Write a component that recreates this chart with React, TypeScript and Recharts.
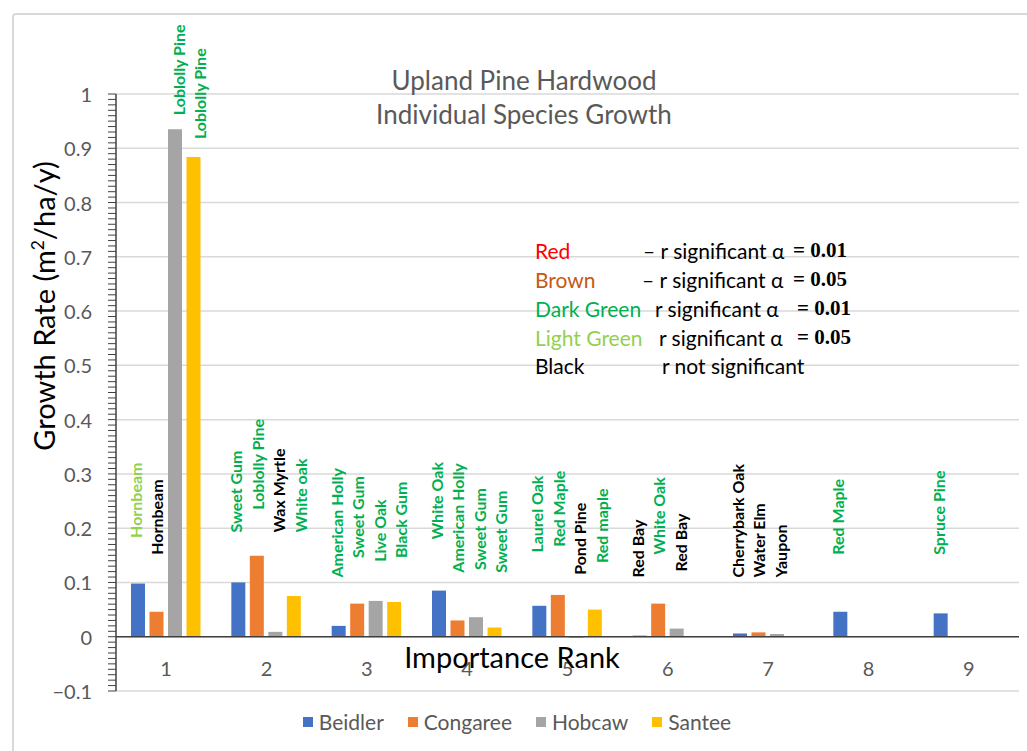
import React from "react";
import {
  ComposedChart,
  Bar,
  XAxis,
  YAxis,
  CartesianGrid,
  ReferenceLine,
  Legend,
  LabelList,
} from "recharts";

// importance rank categories
const ranks = ["1", "2", "3", "4", "5", "6", "7", "8", "9"];

// growth rate per site (m2/ha/y)
const beidler = [0.098, 0.1, 0.02, 0.085, 0.057, 0.002, 0.006, 0.046, 0.043];
const congaree = [0.046, 0.149, 0.061, 0.03, 0.077, 0.061, 0.008, 0, 0];
const hobcaw = [0.935, 0.009, 0.066, 0.036, -0.002, 0.015, 0.005, 0, 0];
const santee = [0.884, 0.075, 0.064, 0.017, 0.05, 0, 0, 0, 0];

// species names above each bar, their significance class and where the text starts (growth-rate units)
const beidlerSpecies = ["Hornbeam", "Sweet Gum", "American Holly", "White Oak", "Laurel Oak", "Red Bay", "Cherrybark Oak", "Red Maple", "Spruce Pine"];
const beidlerSig = ["light", "dark", "dark", "dark", "dark", "ns", "ns", "dark", "dark"];
const beidlerLabelAt = [0.182, 0.192, 0.109, 0.179, 0.155, 0.109, 0.109, 0.151, 0.151];

const congareeSpecies = ["Hornbeam", "Loblolly Pine", "Sweet Gum", "American Holly", "Red Maple", "White Oak", "Water Elm", null, null];
const congareeSig = ["ns", "dark", "dark", "dark", "dark", "dark", "ns", null, null];
const congareeLabelAt = [0.151, 0.234, 0.145, 0.118, 0.166, 0.151, 0.109, null, null];

const hobcawSpecies = ["Loblolly Pine", "Wax Myrtle", "Live Oak", "Sweet Gum", "Pond Pine", "Red Bay", "Yaupon", null, null];
const hobcawSig = ["dark", "ns", "dark", "dark", "ns", "ns", "ns", null, null];
const hobcawLabelAt = [0.961, 0.192, 0.138, 0.123, 0.114, 0.12, 0.109, null, null];

const santeeSpecies = ["Loblolly Pine", "White oak", "Black Gum", "Sweet Gum", "Red maple", null, null, null, null];
const santeeSig = ["dark", "dark", "dark", "dark", "dark", null, null, null, null];
const santeeLabelAt = [0.917, 0.192, 0.145, 0.118, 0.136, null, null, null, null];

// y axis
const majorTicks = [-0.1, 0, 0.1, 0.2, 0.3, 0.4, 0.5, 0.6, 0.7, 0.8, 0.9, 1];
const yTickLabels = ["\u22120.1", "0", "0.1", "0.2", "0.3", "0.4", "0.5", "0.6", "0.7", "0.8", "0.9", "1"];

// significance key
const sigNames = ["Red", "Brown", "Dark Green", "Light Green", "Black"];
const sigTexts = ["\u2013 r significant \u03b1", "\u2013 r significant \u03b1", "r significant \u03b1", "r significant \u03b1", "r not significant"];
const sigAlphas = ["= 0.01", "= 0.05", "= 0.01", "= 0.05", ""];

const sigColor: Record<string, string> = {
  dark: "#00B050",
  light: "#92D050",
  ns: "#000000",
};
const sigNameColors = ["#FF0000", "#C55A11", "#00B050", "#92D050", "#000000"];

const series = [
  { name: "Beidler", color: "#4472C4", values: beidler, species: beidlerSpecies, sig: beidlerSig, labelAt: beidlerLabelAt },
  { name: "Congaree", color: "#ED7D31", values: congaree, species: congareeSpecies, sig: congareeSig, labelAt: congareeLabelAt },
  { name: "Hobcaw", color: "#A5A5A5", values: hobcaw, species: hobcawSpecies, sig: hobcawSig, labelAt: hobcawLabelAt },
  { name: "Santee", color: "#FFC000", values: santee, species: santeeSpecies, sig: santeeSig, labelAt: santeeLabelAt },
];

const data = ranks.map((rank, i) => {
  const row: any = { rank };
  series.forEach((s) => {
    row[s.name] = s.values[i];
    row[`${s.name}LabelAt`] = s.labelAt[i];
    row[`${s.name}Tag`] = s.species[i] ? `${s.species[i]}|${s.sig[i]}` : null;
  });
  return row;
});

// every 0.01 for the minor tick marks
const allTicks = Array.from({ length: 111 }, (_, i) => Math.round((-0.1 + i * 0.01) * 100) / 100);

const FONT = "Lato, 'Open Sans', sans-serif";

const YTick = (props: any) => {
  const { x, y, payload } = props;
  const idx = majorTicks.findIndex((t) => Math.abs(t - payload.value) < 1e-6);
  if (idx < 0) return null;
  return (
    <text x={x} y={y} textAnchor="end" dominantBaseline="central" fill="#595959" fontSize={20} fontFamily={FONT}>
      {yTickLabels[idx]}
    </text>
  );
};

const XTick = (props: any) => {
  const { x, y, payload } = props;
  return (
    <text x={x} y={y - 23} textAnchor="middle" dominantBaseline="central" fill="#595959" fontSize={20} fontFamily={FONT}>
      {payload.value}
    </text>
  );
};

const SpeciesLabel = (props: any) => {
  const { x, y, width, value } = props;
  if (!value) return null;
  const [name, sig] = String(value).split("|");
  const cx = Number(x) + Number(width) / 2 + 2;
  const cy = Number(y);
  return (
    <text
      x={cx}
      y={cy}
      transform={`rotate(-90 ${cx} ${cy})`}
      textAnchor="start"
      dominantBaseline="central"
      fill={sigColor[sig]}
      fontSize={16}
      fontWeight={700}
      fontFamily={FONT}
    >
      {name}
    </text>
  );
};

const SiteLegend = (props: any) => {
  const items = (props.payload || []).filter((p: any) => series.some((s) => s.name === p.value));
  return (
    <div style={{ display: "flex", justifyContent: "center", gap: 24, fontFamily: FONT }}>
      {items.map((entry: any) => (
        <div key={entry.value} style={{ display: "flex", alignItems: "center" }}>
          <span style={{ display: "inline-block", width: 10, height: 10, background: entry.color, marginRight: 6 }} />
          <span style={{ color: "#595959", fontSize: 21 }}>{entry.value}</span>
        </div>
      ))}
    </div>
  );
};

const sigRowTop = [250, 279, 308, 337, 365];
const sigTextLeft = [643, 642, 655, 659, 662];
const sigAlphaLeft = [793, 793, 797, 797, 0];

export default function App() {
  return (
    <div style={{ position: "absolute", left: 0, top: 0, width: 1027, height: 751, background: "#fff", fontFamily: FONT }}>
      <div
        style={{
          position: "absolute",
          left: 12,
          top: 13,
          right: 0,
          bottom: 0,
          borderLeft: "2px solid #d9d9d9",
          borderTop: "2px solid #d9d9d9",
          borderTopLeftRadius: 4,
        }}
      />
      <ComposedChart
        width={1027}
        height={751}
        data={data}
        barGap={4.5}
        margin={{ top: 94, right: 8, bottom: 30, left: 36 }}
        style={{ position: "absolute", left: 0, top: 0 }}
      >
        <CartesianGrid yAxisId="grid" vertical={false} stroke="#d9d9d9" strokeWidth={1.5} />
        <XAxis
          dataKey="rank"
          axisLine={false}
          tickLine={false}
          tickSize={0}
          tickMargin={0}
          height={30}
          tick={<XTick />}
          interval={0}
        />
        <XAxis xAxisId="lbl" dataKey="rank" hide />
        <YAxis
          domain={[-0.1, 1]}
          ticks={allTicks}
          interval={0}
          width={80}
          tickSize={8}
          tickMargin={16}
          tick={<YTick />}
          axisLine={{ stroke: "#404040", strokeWidth: 1.5 }}
          tickLine={{ stroke: "#404040" }}
          allowDataOverflow
        />
        <YAxis yAxisId="grid" domain={[-0.1, 1]} ticks={majorTicks} interval={0} hide allowDataOverflow />
        {series.map((s) => (
          <Bar key={s.name} dataKey={s.name} name={s.name} fill={s.color} barSize={14} isAnimationActive={false} />
        ))}
        {series.map((s) => (
          <Bar
            key={`${s.name}-lbl`}
            xAxisId="lbl"
            dataKey={`${s.name}LabelAt`}
            name={`${s.name} label`}
            fill="none"
            barSize={17}
            legendType="none"
            isAnimationActive={false}
          >
            <LabelList dataKey={`${s.name}Tag`} content={<SpeciesLabel />} />
          </Bar>
        ))}
        <ReferenceLine y={0} stroke="#404040" strokeWidth={1.5} />
        <Legend
          layout="horizontal"
          verticalAlign="middle"
          align="center"
          content={<SiteLegend />}
          wrapperStyle={{ top: 709, left: 17, width: 1000 }}
        />
      </ComposedChart>

      {/* title */}
      <div style={{ position: "absolute", left: 274, width: 500, top: 63, textAlign: "center", color: "#595959", fontSize: 26, lineHeight: "34px" }}>
        Upland Pine Hardwood
        <br />
        Individual Species Growth
      </div>

      {/* y axis title */}
      <div
        style={{
          position: "absolute",
          left: 43,
          top: 306,
          transform: "translate(-50%, -50%) rotate(-90deg)",
          whiteSpace: "nowrap",
          fontSize: 29,
          color: "#000",
        }}
      >
        Growth Rate (m<sup style={{ fontSize: "60%" }}>2</sup>/ha/y)
      </div>

      {/* x axis title */}
      <div
        style={{
          position: "absolute",
          left: 512,
          top: 656,
          transform: "translate(-50%, -50%)",
          whiteSpace: "nowrap",
          fontSize: 29,
          color: "#000",
        }}
      >
        Importance Rank
      </div>

      {/* significance key */}
      {sigNames.map((n, i) => (
        <React.Fragment key={n}>
          <div style={{ position: "absolute", left: 535, top: sigRowTop[i], transform: "translateY(-50%)", fontSize: 21, color: sigNameColors[i], whiteSpace: "nowrap" }}>
            {n}
          </div>
          <div style={{ position: "absolute", left: sigTextLeft[i], top: sigRowTop[i], transform: "translateY(-50%)", fontSize: 21, color: "#000", whiteSpace: "nowrap" }}>
            {sigTexts[i]}
          </div>
          {sigAlphas[i] && (
            <div
              style={{
                position: "absolute",
                left: sigAlphaLeft[i],
                top: sigRowTop[i],
                transform: "translateY(-50%)",
                fontSize: 21,
                fontWeight: 700,
                fontFamily: "'Liberation Serif', 'DejaVu Serif', serif",
                color: "#000",
                whiteSpace: "nowrap",
              }}
            >
              {sigAlphas[i]}
            </div>
          )}
        </React.Fragment>
      ))}
    </div>
  );
}
